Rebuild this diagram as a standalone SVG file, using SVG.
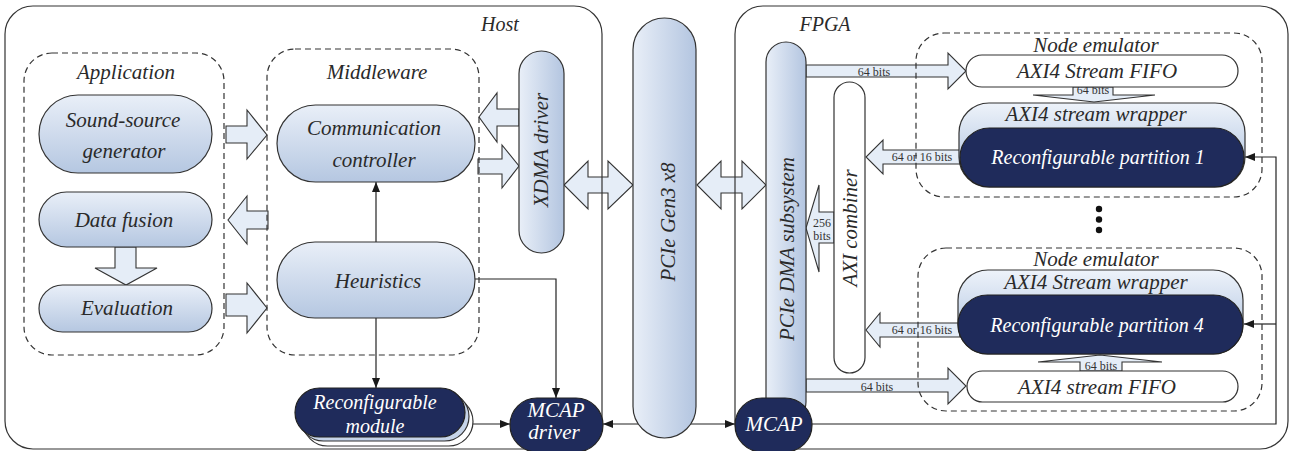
<svg xmlns="http://www.w3.org/2000/svg" width="1291" height="451" viewBox="0 0 1291 451">
<defs>
<linearGradient id="gH" x1="0" y1="0" x2="0" y2="1"><stop offset="0" stop-color="#e9eff8"/><stop offset="1" stop-color="#b5c7e1"/></linearGradient>
<linearGradient id="gV" x1="0" y1="0" x2="1" y2="0"><stop offset="0" stop-color="#e9eff8"/><stop offset="1" stop-color="#b3c5e0"/></linearGradient>
<linearGradient id="gW" x1="0" y1="0" x2="0" y2="1"><stop offset="0" stop-color="#eef3fa"/><stop offset="0.5" stop-color="#c9d7eb"/><stop offset="1" stop-color="#b5c7e1"/></linearGradient>
<marker id="ah" viewBox="0 0 10 8" refX="10" refY="4" markerWidth="10" markerHeight="8" markerUnits="userSpaceOnUse" orient="auto-start-reverse"><path d="M0,0 L10,4 L0,8 Z" fill="#1a1a1a"/></marker>
<style>
.lt{fill:url(#gH);stroke:#333;stroke-width:1.2}
.lv{fill:url(#gV);stroke:#333;stroke-width:1.2}
.wr{fill:url(#gW);stroke:#333;stroke-width:1.2}
.dk{fill:#1f2b5b;stroke:#222;stroke-width:1.2}
.wh{fill:#fff;stroke:#333;stroke-width:1.2}
.ba{fill:#e5edf7;stroke:#333;stroke-width:1.1}
.cn{fill:none;stroke:#222;stroke-width:1.2}
.box{fill:none;stroke:#333;stroke-width:1.2}
.dash{fill:none;stroke:#333;stroke-width:1.2;stroke-dasharray:6 4}
.t{font-family:"Liberation Serif",serif;font-style:italic;font-size:21px;fill:#2a2a2a;text-anchor:middle}
.tw{font-family:"Liberation Serif",serif;font-style:italic;font-size:21px;fill:#fff;text-anchor:middle}
.s{font-family:"Liberation Serif",serif;font-size:12px;fill:#333;text-anchor:middle}
</style>
</defs>
<rect width="1291" height="451" fill="#fff"/>

<g id="connectors">
<polygon class="ba" points="226,126 247,126 247,110 267,135 247,159 247,143 226,143"/>
<polygon class="ba" points="268,211 247,211 247,196 228,220 247,244 247,229 268,229"/>
<polygon class="ba" points="226,294 247,294 247,283 267,308 247,333 247,316 226,316"/>
<polygon class="ba" points="115,247 136,247 136,268 157,268 126,285 95,268 115,268"/>
<polygon class="ba" points="519,109 497,109 497,93 479,117 497,142 497,126 519,126"/>
<polygon class="ba" points="478,159 502,159 502,145 519,166 502,188 502,174 478,174"/>
<polygon class="ba" points="564,185 588,161 588,177 608,177 608,161 633,185 608,209 608,193 588,193 588,209"/>
<polygon class="ba" points="697,185 721,161 721,177 742,177 742,161 766,185 742,209 742,193 721,193 721,209"/>
<polygon class="ba" points="834,212 819,212 819,185 806,228 819,272 819,243 834,243"/>
<text class="s" x="822" y="227">256</text><text class="s" x="822" y="240">bits</text>
<polygon class="ba" points="806,65 948,65 948,53 966,71 948,89 948,77 806,77"/>
<text class="s" x="874" y="76">64 bits</text>
<polygon class="ba" points="806,379 948,379 948,368 966,386 948,404 948,392 806,392"/>
<text class="s" x="877" y="391">64 bits</text>
<polygon class="ba" points="960,150 883,150 883,140 866,157 883,174 883,164 960,164"/>
<text class="s" x="922" y="161">64 or 16 bits</text>
<polygon class="ba" points="960,323 880,323 880,313 866,330 880,347 880,337 960,337"/>
<text class="s" x="922" y="334">64 or 16 bits</text>
<polygon class="ba" points="1073,87 1113,87 1113,95 1155,95 1094,102 1033,95 1073,95"/>
<text class="s" x="1093" y="94">64 bits</text>
<polygon class="ba" points="1080,371 1122,371 1122,362 1162,362 1100,355 1038,362 1080,362"/>
<text class="s" x="1101" y="370">64 bits</text>
<line class="cn" x1="376" y1="242" x2="376" y2="182" marker-end="url(#ah)"/>
<line class="cn" x1="376" y1="318" x2="376" y2="388" marker-end="url(#ah)"/>
<path class="cn" d="M475,279 H556 V398" marker-end="url(#ah)"/>
<path class="cn" d="M473,424 H510" marker-end="url(#ah)"/>
<path class="cn" d="M603,424 H735" marker-start="url(#ah)" marker-end="url(#ah)"/>
<path class="cn" d="M812,424 H1276 V157 H1245" marker-end="url(#ah)"/>
<path class="cn" d="M1276,324 H1244" marker-end="url(#ah)"/>
</g>

<g id="host">
<rect class="box" x="5" y="6" width="597" height="443" rx="28"/>
<text class="t" x="500" y="31" style="font-size:20px">Host</text>
</g>
<g id="fpga">
<rect class="box" x="735" y="6" width="553" height="443" rx="28"/>
<text class="t" x="825" y="31" style="font-size:20px">FPGA</text>
</g>
<g id="application">
<rect class="dash" x="24" y="53" width="200" height="302" rx="28"/>
<text class="t" x="126" y="79">Application</text>
</g>
<g id="middleware">
<rect class="dash" x="267" y="49" width="212" height="306" rx="28"/>
<text class="t" x="377" y="79">Middleware</text>
</g>
<g id="node-emulator-1">
<rect class="dash" x="916" y="33" width="346" height="164" rx="28"/>
<text class="t" x="1096" y="52">Node emulator</text>
</g>
<g id="node-emulator-4">
<rect class="dash" x="918" y="248" width="344" height="163" rx="28"/>
<text class="t" x="1096" y="266">Node emulator</text>
</g>

<g id="sound-source-generator">
<rect class="lt" x="39" y="95" width="173" height="78" rx="39"/>
<text class="t" x="123" y="127">Sound-source</text>
<text class="t" x="124" y="158">generator</text>
</g>
<g id="data-fusion">
<rect class="lt" x="39" y="192" width="173" height="55" rx="27.5"/>
<text class="t" x="124" y="227">Data fusion</text>
</g>
<g id="evaluation">
<rect class="lt" x="39" y="285" width="173" height="47" rx="23.5"/>
<text class="t" x="127" y="315">Evaluation</text>
</g>
<g id="communication-controller">
<rect class="lt" x="277" y="105" width="198" height="77" rx="38.5"/>
<text class="t" x="374" y="135">Communication</text>
<text class="t" x="374" y="167">controller</text>
</g>
<g id="heuristics">
<rect class="lt" x="277" y="242" width="198" height="76" rx="38"/>
<text class="t" x="378" y="288">Heuristics</text>
</g>
<g id="xdma-driver">
<rect class="lv" x="519" y="51" width="45" height="202" rx="22.5"/>
<text class="t" transform="translate(548,150) rotate(-90)">XDMA driver</text>
</g>
<g id="reconfigurable-module">
<rect class="wh" x="303" y="397" width="170" height="49" rx="24.5"/>
<rect x="299" y="392" width="170" height="49" rx="24.5" fill="#c6d4e9" stroke="#333" stroke-width="1.2"/>
<rect class="dk" x="295" y="388" width="170" height="49" rx="24.5"/>
<text class="tw" x="375" y="409" style="font-size:20px">Reconfigurable</text>
<text class="tw" x="375" y="433" style="font-size:20px">module</text>
</g>
<g id="mcap-driver">
<rect class="dk" x="510" y="398" width="93" height="54" rx="27"/>
<text class="tw" x="556" y="417">MCAP</text>
<text class="tw" x="554" y="439">driver</text>
</g>
<g id="pcie-gen3">
<rect class="lv" x="633" y="18" width="63" height="420" rx="31.5"/>
<text class="t" transform="translate(675,222) rotate(-90)">PCIe Gen3 x8</text>
</g>
<g id="pcie-dma-subsystem">
<rect class="lv" x="766" y="42" width="40" height="380" rx="20"/>
<text class="t" transform="translate(794,249) rotate(-90)">PCIe DMA subsystem</text>
</g>
<g id="mcap">
<rect class="dk" x="735" y="398" width="77" height="54" rx="27"/>
<text class="tw" x="774" y="431">MCAP</text>
</g>
<g id="axi-combiner">
<rect class="wh" x="834" y="82" width="31" height="291" rx="15.5"/>
<text class="t" transform="translate(857,228) rotate(-90)">AXI combiner</text>
</g>
<g id="axi4-stream-fifo-1">
<rect class="wh" x="966" y="55" width="272" height="32" rx="16"/>
<text class="t" x="1097" y="78">AXI4 Stream FIFO</text>
</g>
<g id="axi4-stream-wrapper-1">
<rect class="wr" x="959" y="103" width="286" height="84" rx="30"/>
<text class="t" x="1096" y="121">AXI4 stream wrapper</text>
</g>
<g id="reconfigurable-partition-1">
<rect class="dk" x="960" y="128" width="284" height="59" rx="29.5"/>
<text class="tw" x="1098" y="164" style="font-size:20px">Reconfigurable partition 1</text>
</g>
<g id="dots">
<circle cx="1099" cy="209" r="3.2" fill="#111"/>
<circle cx="1099" cy="219.5" r="3.2" fill="#111"/>
<circle cx="1099" cy="230" r="3.2" fill="#111"/>
</g>
<g id="axi4-stream-wrapper-4">
<rect class="wr" x="958" y="270" width="285" height="84" rx="30"/>
<text class="t" x="1096" y="289">AXI4 Stream wrapper</text>
</g>
<g id="reconfigurable-partition-4">
<rect class="dk" x="958" y="295" width="285" height="59" rx="29.5"/>
<text class="tw" x="1097" y="332" style="font-size:20px">Reconfigurable partition 4</text>
</g>
<g id="axi4-stream-fifo-4">
<rect class="wh" x="967" y="371" width="271" height="31" rx="15.5"/>
<text class="t" x="1097" y="394">AXI4 stream FIFO</text>
</g>
</svg>
